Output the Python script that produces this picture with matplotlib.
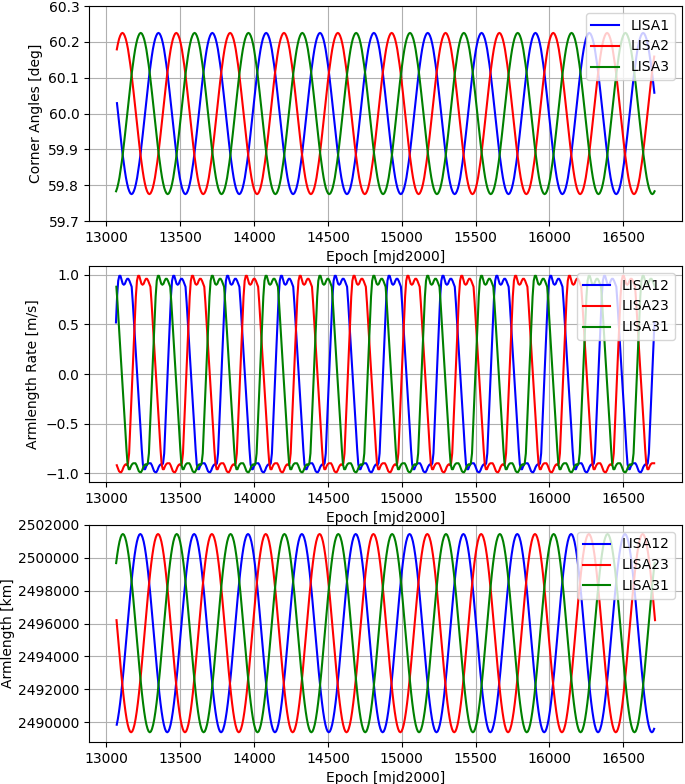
# LISA constellation: corner angles, armlength rates and armlengths

import numpy as np
import matplotlib
matplotlib.use('Agg')
import matplotlib.pyplot as plt

epoch_start = 13065
epoch_end = 16715
period = 364.6  # days, one orbit

# one orbit of each quantity, 48 samples
angle_cycle = [60.225, 60.223, 60.217, 60.208, 60.195, 60.179, 60.159, 60.137,
               60.113, 60.086, 60.058, 60.029, 60.000, 59.971, 59.942, 59.914,
               59.887, 59.863, 59.841, 59.821, 59.805, 59.792, 59.783, 59.777,
               59.775, 59.777, 59.783, 59.792, 59.805, 59.821, 59.841, 59.863,
               59.887, 59.914, 59.942, 59.971, 60.000, 60.029, 60.058, 60.086,
               60.113, 60.137, 60.159, 60.179, 60.195, 60.208, 60.217, 60.223]

# starts at the upward zero crossing
rate_cycle = [0.00, 0.26, 0.52, 0.78, 0.94, 0.99, 0.99, 0.95,
              0.91, 0.90, 0.91, 0.94, 0.96, 0.96, 0.94, 0.91,
              0.88, 0.72, 0.53, 0.35, 0.16, -0.02, -0.20, -0.39,
              -0.57, -0.76, -0.91, -0.96, -0.96, -0.93, -0.91, -0.90,
              -0.90, -0.90, -0.92, -0.95, -0.98, -0.99, -0.99, -0.97,
              -0.94, -0.92, -0.91, -0.92, -0.90, -0.80, -0.53, -0.26]

arm_cycle = [2501450, 2501400, 2501240, 2500990, 2500640, 2500200, 2499680, 2499090,
             2498440, 2497730, 2496980, 2496210, 2495420, 2494630, 2493860, 2493110,
             2492410, 2491750, 2491160, 2490640, 2490200, 2489850, 2489600, 2489440,
             2489390, 2489440, 2489600, 2489850, 2490200, 2490640, 2491160, 2491750,
             2492410, 2493110, 2493860, 2494630, 2495420, 2496210, 2496980, 2497730,
             2498440, 2499090, 2499680, 2500200, 2500640, 2500990, 2501240, 2501400]

# epoch at which each series is at the first entry of its cycle table
angle_names = ['LISA1', 'LISA2', 'LISA3']
angle_phase = [13353, 13109, 13233]
arm_names = ['LISA12', 'LISA23', 'LISA31']
rate_phase = [13050, 13177, 13311]
arm_phase = [13230, 13350, 13112]
colors = ['b', 'r', 'g']


def series(cycle, t0):
    n = len(cycle)
    dt = period / n
    k = np.arange(np.ceil((epoch_start - t0) / dt),
                  np.floor((epoch_end - t0) / dt) + 1).astype(int)
    return t0 + k * dt, np.array(cycle)[k % n]


fig = plt.figure(figsize=(6.85, 7.84), dpi=100)
ax1 = fig.add_axes([0.1299, 0.7181, 0.8657, 0.2742])
ax2 = fig.add_axes([0.1299, 0.3852, 0.8657, 0.2755])
ax3 = fig.add_axes([0.1299, 0.0536, 0.8657, 0.2768])

for name, t0, c in zip(angle_names, angle_phase, colors):
    t, v = series(angle_cycle, t0)
    ax1.plot(t, v, color=c, label=name)
ax1.set_ylim(59.7, 60.3)
ax1.set_ylabel('Corner Angles [deg]')

for name, t0, c in zip(arm_names, rate_phase, colors):
    t, v = series(rate_cycle, t0)
    ax2.plot(t, v, color=c, label=name)
ax2.set_ylabel('Armlength Rate [m/s]')

for name, t0, c in zip(arm_names, arm_phase, colors):
    t, v = series(arm_cycle, t0)
    ax3.plot(t, v, color=c, label=name)
ax3.set_ylim(2488800, 2502000)
ax3.set_ylabel('Armlength [km]')
ax3.yaxis.set_label_coords(-0.125, 0.5)

for ax in (ax1, ax2, ax3):
    ax.set_xlim(12882.5, 16897.5)
    ax.ticklabel_format(style='plain', useOffset=False)
    ax.set_xlabel('Epoch [mjd2000]')
    ax.grid(True)
    ax.legend(loc='upper right')

fig.savefig('out.png', dpi=100)
